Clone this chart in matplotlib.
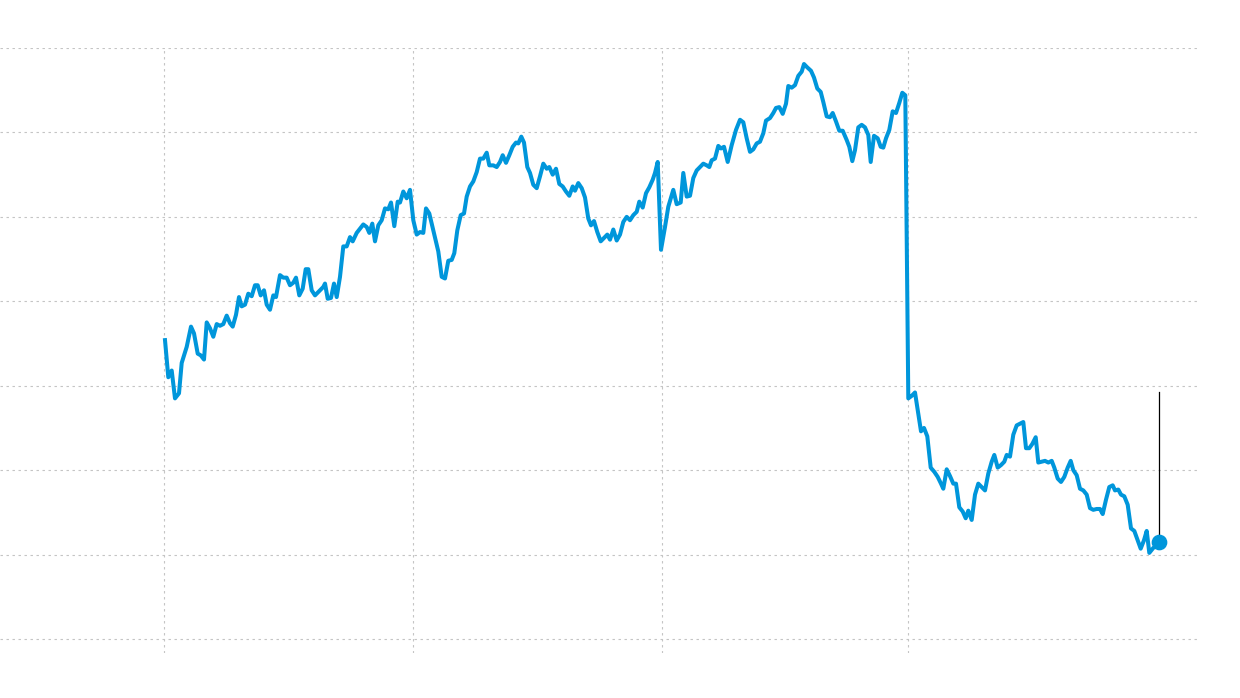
import matplotlib
matplotlib.use("Agg")
import matplotlib.pyplot as plt

# x: trading-day index, y: price
days = [1, 4.3, 7.7, 11, 15, 17.7, 22.7, 27, 30, 33.7, 36.7, 40, 42.7, 46, 49.3, 52.7, 56, 59.3, 62.7, 66,
        68.7, 72, 75, 77.7, 81, 84.3, 87.7, 91, 93.7, 96.7, 100, 102.7, 106, 109.3, 112, 116, 119.3, 122.7, 126, 129.3,
        132, 135.3, 138.7, 141.7, 144.3, 147.7, 151, 154.3, 159.3, 161, 163.7, 167, 170, 172.7, 176, 179.3, 182.7, 186, 188.7, 192.7,
        196, 199.3, 202.7, 205.3, 208.3, 211, 214.3, 217.7, 221, 224.3, 227, 230.3, 233.7, 236, 239.3, 242.7, 246,
        249.3, 252.7, 256, 259.3, 262, 265.3, 269.3, 274.3, 277.7, 281, 284.3, 287.7, 290.3, 293.3, 296.7, 300, 302.7, 306, 309.3,
        312.7, 316, 319.3, 322.7, 325.3, 329.3, 332.7, 336, 338.7, 342, 345.3, 348.7, 352, 354.3, 357.3, 360, 363.3, 366, 369.3,
        372.7, 376, 379.3, 382.7, 385.3, 388.7, 392, 395.3, 398.7, 402, 405.3, 408.7, 411, 414.3, 417.7, 421, 424.3, 427, 430,
        433.3, 436.7, 440, 443.3, 446, 449.3, 452.7, 456, 459.3, 462.7, 466, 469.3, 472.7, 475.3, 478.7, 482, 485.3, 488.7, 491, 493.7,
        497, 501, 504.3, 509.3, 512.7, 516.7, 519.3, 522.7, 526, 529.3, 532.7, 536, 539.3, 542.7, 545.3, 547.7, 551, 554.3, 557, 560,
        563.7, 567.7, 572, 576, 579.3, 582.7, 586, 589.3, 592.7, 596, 599.3, 602, 606, 609.3, 612, 615.3, 618.7, 622, 624.3, 627.7,
        631, 634.3, 637.7, 640, 643.3, 647, 650, 653.3, 656.7, 659.3, 662.7, 666, 668.7, 672, 675.3, 678.7, 682.7, 685.3, 688.3, 691,
        694.3, 697.7, 701, 704.3, 706.7, 710, 713.7, 716.7, 719.3, 722, 725.3, 728.7, 732, 735.3, 738.3, 741.3,
        744.3, 747.7, 751, 754.3, 757, 760, 763.3, 766.7, 770.3, 773.7, 777, 779.3, 782.7, 786, 789.3, 792, 795.3, 798.7, 801.7, 804.3,
        807.7, 811, 814.3, 817.7, 821, 824.3, 827.7, 830.3, 833.7, 837, 840.3, 842.7, 846, 849.3, 852.7, 856, 859.3, 862, 865.3, 868.3,
        871.7, 874.3, 877.7, 881, 884.3, 887.7, 890.3, 893.7, 897, 900.3, 903.7, 906.7, 909.3, 912.7, 916, 919.3, 922.7, 926, 929.3, 932.7,
        936, 938.7, 942, 945.3, 948.7, 951, 954.3, 957, 960.3, 963.7, 967, 970.3, 973.3, 976.7, 980, 982.7, 985.3, 988.7]

prices = [55.4, 51.0, 51.8, 48.5, 49.1, 52.7, 54.6, 57.0, 56.2, 53.8, 53.6, 53.1, 57.5, 56.8, 55.8, 57.3, 57.1, 57.3, 58.3, 57.4,
          57.0, 58.4, 60.5, 59.4, 59.6, 60.9, 60.6, 61.9, 61.9, 60.7, 61.3, 59.6, 59.0, 60.7, 60.5, 63.1, 62.8, 62.8, 61.9, 62.2,
          62.8, 60.7, 61.5, 63.8, 63.8, 61.3, 60.7, 61.1, 61.7, 62.1, 60.3, 60.4, 62.1, 60.5, 62.9, 66.5, 66.5, 67.6, 67.1, 68.1,
          68.6, 69.1, 68.8, 68.1, 69.2, 67.1, 69.0, 69.6, 71.0, 70.9, 71.7, 68.9, 71.8, 71.7, 73.0, 72.2, 73.2,
          69.6, 67.9, 68.2, 68.1, 71.0, 70.4, 68.4, 65.9, 62.9, 62.7, 64.8, 64.9, 65.7, 68.4, 70.2, 70.4, 72.4, 73.6, 74.2, 75.3,
          76.9, 76.9, 77.6, 76.1, 76.1, 75.9, 76.5, 77.3, 76.4, 77.3, 78.3, 78.8, 78.7, 79.5, 78.8, 75.9, 75.2, 73.8, 73.4, 74.8,
          76.3, 75.7, 75.9, 75.0, 75.7, 73.9, 73.6, 73.0, 72.5, 73.6, 73.1, 74.0, 73.4, 72.3, 69.8, 69.0, 69.5, 68.2, 67.1, 67.5,
          67.9, 67.3, 68.5, 67.2, 67.9, 69.4, 70.0, 69.6, 70.2, 70.6, 71.8, 71.1, 72.8, 73.5, 74.4, 75.2, 76.5, 66.1, 68.8, 71.2,
          73.2, 71.5, 71.7, 75.2, 72.4, 72.5, 74.6, 75.5, 75.9, 76.3, 76.1, 75.9, 76.7, 76.9, 78.4, 78.1, 78.3, 76.5, 78.5, 80.3,
          81.5, 81.2, 79.3, 77.7, 78.0, 78.7, 78.9, 79.9, 81.4, 81.7, 82.3, 82.9, 83.0, 82.2, 83.4, 85.5, 85.3, 85.6, 86.7, 87.2,
          88.1, 87.7, 87.3, 86.5, 85.2, 84.8, 83.6, 81.9, 81.8, 82.3, 81.3, 80.2, 80.2, 79.1, 78.3, 76.6, 77.9, 80.6, 80.9, 80.6,
          79.7, 76.5, 79.6, 79.3, 78.3, 78.2, 79.3, 80.3, 82.5, 82.3, 83.5, 84.7, 84.4,
          48.5, 48.8, 49.2, 46.7, 44.6, 45.0, 44.0, 40.3, 39.8, 39.2, 38.4, 37.8, 40.1, 39.3, 38.4, 38.4, 35.6, 35.1, 34.3, 35.2,
          34.1, 37.1, 38.4, 38.0, 37.6, 39.6, 41.0, 41.8, 40.3, 40.6, 41.0, 41.8, 41.6, 44.2, 45.3, 45.5, 45.7, 42.6, 42.6, 43.1,
          43.9, 40.9, 41.0, 41.1, 40.9, 41.1, 40.3, 39.0, 38.6, 39.2, 40.3, 41.1, 40.0, 39.4, 37.8, 37.6, 37.1, 35.5, 35.3, 35.4,
          35.4, 34.8, 36.5, 38.0, 38.2, 37.6, 37.7, 37.1, 36.9, 35.9, 33.1, 32.8, 31.8, 30.7, 31.7, 32.8, 30.2, 30.7]

last_day = 995
last_price = 31.5
annot_top = 49.3

year_starts = [0, 249, 498, 744]
price_ticks = [20, 30, 40, 50, 60, 70, 80, 90]

line_color = "#0096db"
grid_color = "#c4c4c4"

fig = plt.figure(figsize=(12.4, 6.98), dpi=100)
ax = fig.add_axes([0, 45 / 698, 1197 / 1240, 605 / 698])
ax.set_xlim(-164, 1033)
ax.set_ylim(20 - 14 / 8.443, 90)

for t in price_ticks:
    ax.axhline(t, color=grid_color, lw=0.8, ls=(0, (2.2, 3.2)), zorder=0)
for t in year_starts:
    ax.axvline(t, color=grid_color, lw=0.8, ls=(0, (2.2, 3.2)), zorder=0)

ax.plot(days, prices, color=line_color, lw=2.9, solid_joinstyle="round", zorder=3, clip_on=False)
ax.plot([last_day, last_day], [last_price, annot_top], color="black", lw=0.9, zorder=2)
ax.plot([last_day], [last_price], "o", color=line_color, markersize=10.3, zorder=4, clip_on=False)

for s in ax.spines.values():
    s.set_visible(False)
ax.set_xticks([])
ax.set_yticks([])
ax.patch.set_alpha(0)

fig.savefig("out.png", dpi=100, facecolor="white")
